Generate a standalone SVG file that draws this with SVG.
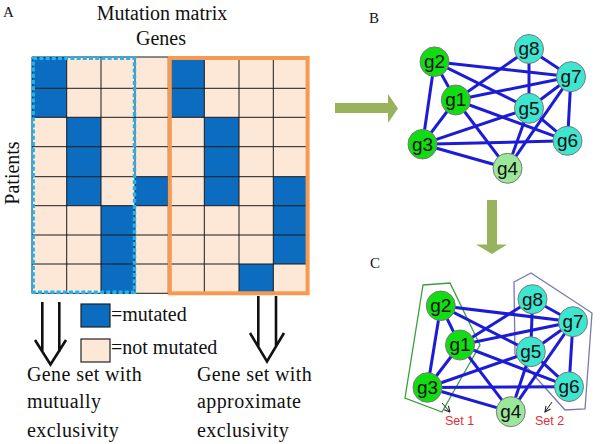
<svg xmlns="http://www.w3.org/2000/svg" width="600" height="444" viewBox="0 0 600 444">
<defs>
<style>
.ser{font-family:"Liberation Serif","Times New Roman",serif;fill:#111}
.t20{font-size:20px}
.blue{fill:#0B6CC0}
.grid{stroke:#1a1a1a;stroke-width:1;fill:none}
.dbl{stroke:#111;stroke-width:2.6;fill:none;stroke-linejoin:miter}
.edge line{stroke:#1C1CD6;stroke-width:3}
.n ellipse{stroke:#7a7a7a;stroke-width:1}
.gA{fill:#12DC12}
.gB{fill:#3EE5CF}
.gC{fill:#9BE89B}
.lbl{font-family:"Liberation Sans",Arial,sans-serif;font-size:19px;fill:#111;text-anchor:middle}
.set{font-family:"Liberation Sans",Arial,sans-serif;font-size:12.5px;fill:#E0303A}
.olive{fill:#98B25E}
</style>
<marker id="chev" viewBox="0 0 10 10" refX="9" refY="5" markerWidth="7" markerHeight="7" orient="auto" markerUnits="userSpaceOnUse">
<path d="M1,1 L9,5 L1,9" fill="none" stroke="#222" stroke-width="1.5"/>
</marker>
</defs>
<rect width="600" height="444" fill="#fff"/>

<!-- Panel A -->
<g id="panelA-titles">
<text class="ser" x="3" y="17" font-size="15">A</text>
<text class="ser t20" x="162" y="19.5" text-anchor="middle">Mutation matrix</text>
<text class="ser t20" x="161" y="45" text-anchor="middle">Genes</text>
<text class="ser t20" transform="translate(19,173) rotate(-90)" text-anchor="middle">Patients</text>
</g>

<g id="matrix">
<rect x="32" y="57" width="275.3" height="236.3" fill="#FDE8D8"/>
<rect class="blue" x="32" y="57" width="34.7" height="31.3"/>
<rect class="blue" x="168.3" y="57" width="36" height="31.3"/>
<rect class="blue" x="32" y="88.3" width="34.7" height="29"/>
<rect class="blue" x="168.3" y="88.3" width="36" height="29"/>
<rect class="blue" x="66.7" y="117.3" width="34.3" height="29.4"/>
<rect class="blue" x="204.3" y="117.3" width="34.7" height="29.4"/>
<rect class="blue" x="66.7" y="146.7" width="34.3" height="30"/>
<rect class="blue" x="204.3" y="146.7" width="34.7" height="30"/>
<rect class="blue" x="66.7" y="176.7" width="34.3" height="29"/>
<rect class="blue" x="135" y="176.7" width="33.3" height="29"/>
<rect class="blue" x="204.3" y="176.7" width="34.7" height="29"/>
<rect class="blue" x="273.3" y="176.7" width="34" height="29"/>
<rect class="blue" x="101" y="205.7" width="34" height="29.3"/>
<rect class="blue" x="273.3" y="205.7" width="34" height="29.3"/>
<rect class="blue" x="101" y="235" width="34" height="29"/>
<rect class="blue" x="273.3" y="235" width="34" height="29"/>
<rect class="blue" x="101" y="264" width="34" height="29.3"/>
<rect class="blue" x="239" y="264" width="34.3" height="29.3"/>
<path class="grid" d="M32,57V293.3M66.7,57V293.3M101,57V293.3M135,57V293.3M168.3,57V293.3M204.3,57V293.3M239,57V293.3M273.3,57V293.3M307.3,57V293.3M32,57H307.3M32,88.3H307.3M32,117.3H307.3M32,146.7H307.3M32,176.7H307.3M32,205.7H307.3M32,235H307.3M32,264H307.3M32,293.3H307.3"/>
<rect x="33.2" y="58.2" width="101.3" height="234" fill="none" stroke="#22B3EE" stroke-width="3.4" stroke-dasharray="4 2.2"/>
<rect x="169.8" y="58" width="137.8" height="235.3" fill="none" stroke="#F59A50" stroke-width="4"/>
</g>

<g id="arrow-left">
<path class="dbl" d="M42.3,302V352M59.3,302V352M35,340L50.5,364.5L66,340"/>
</g>
<g id="arrow-right">
<path class="dbl" d="M258.3,296V347M276,296V347M250,333L267,361.5L284,333"/>
</g>

<g id="legend">
<rect x="81" y="304" width="29" height="23" fill="#0B6CC0" stroke="#222" stroke-width="1.2"/>
<text class="ser t20" x="111" y="320.5">=mutated</text>
<rect x="81" y="339" width="29" height="23" fill="#FDE8D8" stroke="#222" stroke-width="1.2"/>
<text class="ser t20" x="111" y="354">=not mutated</text>
</g>

<g id="label-mutual">
<text class="ser t20" x="27" y="380.5" letter-spacing="0.4">Gene set with</text>
<text class="ser t20" x="27" y="408" letter-spacing="0.4">mutually</text>
<text class="ser t20" x="27" y="436.5" letter-spacing="0.4">exclusivity</text>
</g>
<g id="label-approx">
<text class="ser t20" x="197" y="380.5" letter-spacing="0.4">Gene set with</text>
<text class="ser t20" x="197" y="408" letter-spacing="0.4">approximate</text>
<text class="ser t20" x="197" y="436.5" letter-spacing="0.4">exclusivity</text>
</g>

<!-- Big olive arrows -->
<g id="arrow-AB">
<path class="olive" d="M335,103H388V94L398,108.5L388,123V113H335Z"/>
</g>
<g id="arrow-BC">
<path class="olive" d="M487,200H497V244.5H507L492,254L476,244.5H487Z"/>
</g>

<text class="ser" x="369" y="23" font-size="15">B</text>
<text class="ser" x="370" y="268" font-size="15">C</text>

<!-- Graph B -->
<g id="graphB-edges" class="edge">
<line x1="434.5" y1="61.7" x2="455.8" y2="100"/>
<line x1="434.5" y1="61.7" x2="422.5" y2="144.2"/>
<line x1="434.5" y1="61.7" x2="571" y2="76.7"/>
<line x1="434.5" y1="61.7" x2="529" y2="108.3"/>
<line x1="455.8" y1="100" x2="529" y2="49"/>
<line x1="455.8" y1="100" x2="571" y2="76.7"/>
<line x1="455.8" y1="100" x2="567.5" y2="140.8"/>
<line x1="455.8" y1="100" x2="507.5" y2="168.3"/>
<line x1="455.8" y1="100" x2="422.5" y2="144.2"/>
<line x1="422.5" y1="144.2" x2="529" y2="108.3"/>
<line x1="422.5" y1="144.2" x2="567.5" y2="140.8"/>
<line x1="422.5" y1="144.2" x2="507.5" y2="168.3"/>
<line x1="529" y1="49" x2="571" y2="76.7"/>
<line x1="529" y1="49" x2="529" y2="108.3"/>
<line x1="571" y1="76.7" x2="529" y2="108.3"/>
<line x1="571" y1="76.7" x2="567.5" y2="140.8"/>
<line x1="571" y1="76.7" x2="507.5" y2="168.3"/>
<line x1="529" y1="108.3" x2="507.5" y2="168.3"/>
<line x1="529" y1="108.3" x2="567.5" y2="140.8"/>
</g>
<g id="b-g2" class="n"><ellipse class="gA" cx="434.5" cy="61.7" rx="14.5" ry="14.8"/><text class="lbl" x="434.5" y="68">g2</text></g>
<g id="b-g1" class="n"><ellipse class="gA" cx="455.8" cy="100" rx="14.5" ry="15"/><text class="lbl" x="455.8" y="106.3">g1</text></g>
<g id="b-g3" class="n"><ellipse class="gA" cx="422.5" cy="144.2" rx="14.5" ry="14.8"/><text class="lbl" x="422.5" y="150.5">g3</text></g>
<g id="b-g4" class="n"><ellipse class="gC" cx="507.5" cy="168.3" rx="14.5" ry="15"/><text class="lbl" x="507.5" y="174.6">g4</text></g>
<g id="b-g5" class="n"><ellipse class="gB" cx="529" cy="108.3" rx="14.5" ry="15"/><text class="lbl" x="529" y="114.6">g5</text></g>
<g id="b-g8" class="n"><ellipse class="gB" cx="529" cy="49" rx="14.5" ry="14.5"/><text class="lbl" x="529" y="55.3">g8</text></g>
<g id="b-g7" class="n"><ellipse class="gB" cx="571" cy="76.7" rx="14.5" ry="15"/><text class="lbl" x="571" y="83">g7</text></g>
<g id="b-g6" class="n"><ellipse class="gB" cx="567.5" cy="140.8" rx="14.5" ry="14.5"/><text class="lbl" x="567.5" y="147.1">g6</text></g>

<!-- Graph C -->
<g id="set1-hull"><polygon points="423,285 450,283 480,345 442,412 405,398" fill="none" stroke="#3A9E3A" stroke-width="1.3"/></g>
<g id="set2-hull"><polygon points="514,282 531,273 592,313 585,409 565,410 515,354" fill="none" stroke="#7A78B0" stroke-width="1.3"/></g>
<g id="graphC-edges" class="edge">
<line x1="440.8" y1="305.8" x2="460" y2="345"/>
<line x1="440.8" y1="305.8" x2="427.5" y2="387.5"/>
<line x1="440.8" y1="305.8" x2="573" y2="321.7"/>
<line x1="440.8" y1="305.8" x2="530.8" y2="351.7"/>
<line x1="460" y1="345" x2="532.5" y2="299.2"/>
<line x1="460" y1="345" x2="573" y2="321.7"/>
<line x1="460" y1="345" x2="569" y2="386.7"/>
<line x1="460" y1="345" x2="510.8" y2="411.7"/>
<line x1="460" y1="345" x2="427.5" y2="387.5"/>
<line x1="427.5" y1="387.5" x2="530.8" y2="351.7"/>
<line x1="427.5" y1="387.5" x2="569" y2="386.7"/>
<line x1="427.5" y1="387.5" x2="510.8" y2="411.7"/>
<line x1="532.5" y1="299.2" x2="573" y2="321.7"/>
<line x1="532.5" y1="299.2" x2="530.8" y2="351.7"/>
<line x1="573" y1="321.7" x2="530.8" y2="351.7"/>
<line x1="573" y1="321.7" x2="569" y2="386.7"/>
<line x1="573" y1="321.7" x2="510.8" y2="411.7"/>
<line x1="530.8" y1="351.7" x2="510.8" y2="411.7"/>
<line x1="530.8" y1="351.7" x2="569" y2="386.7"/>
</g>
<g id="c-g2" class="n"><ellipse class="gA" cx="440.8" cy="305.8" rx="14.5" ry="14.8"/><text class="lbl" x="440.8" y="312.1">g2</text></g>
<g id="c-g1" class="n"><ellipse class="gA" cx="460" cy="345" rx="14.5" ry="15"/><text class="lbl" x="460" y="351.3">g1</text></g>
<g id="c-g3" class="n"><ellipse class="gA" cx="427.5" cy="387.5" rx="14.5" ry="14.8"/><text class="lbl" x="427.5" y="393.8">g3</text></g>
<g id="c-g4" class="n"><ellipse class="gC" cx="510.8" cy="411.7" rx="14.5" ry="15"/><text class="lbl" x="510.8" y="418">g4</text></g>
<g id="c-g5" class="n"><ellipse class="gB" cx="530.8" cy="351.7" rx="14.5" ry="15"/><text class="lbl" x="530.8" y="358">g5</text></g>
<g id="c-g8" class="n"><ellipse class="gB" cx="532.5" cy="299.2" rx="14.5" ry="14.5"/><text class="lbl" x="532.5" y="305.5">g8</text></g>
<g id="c-g7" class="n"><ellipse class="gB" cx="573" cy="321.7" rx="14.5" ry="15"/><text class="lbl" x="573" y="328">g7</text></g>
<g id="c-g6" class="n"><ellipse class="gB" cx="569" cy="386.7" rx="14.5" ry="14.8"/><text class="lbl" x="569" y="393">g6</text></g>

<g id="set-pointers">
<line x1="442" y1="403" x2="450" y2="412" stroke="#222" stroke-width="1" marker-end="url(#chev)"/>
<line x1="552" y1="402" x2="545" y2="412" stroke="#222" stroke-width="1" marker-end="url(#chev)"/>
</g>
<g id="set1-label"><text class="set" x="445" y="425">Set 1</text></g>
<g id="set2-label"><text class="set" x="535" y="425">Set 2</text></g>
</svg>
